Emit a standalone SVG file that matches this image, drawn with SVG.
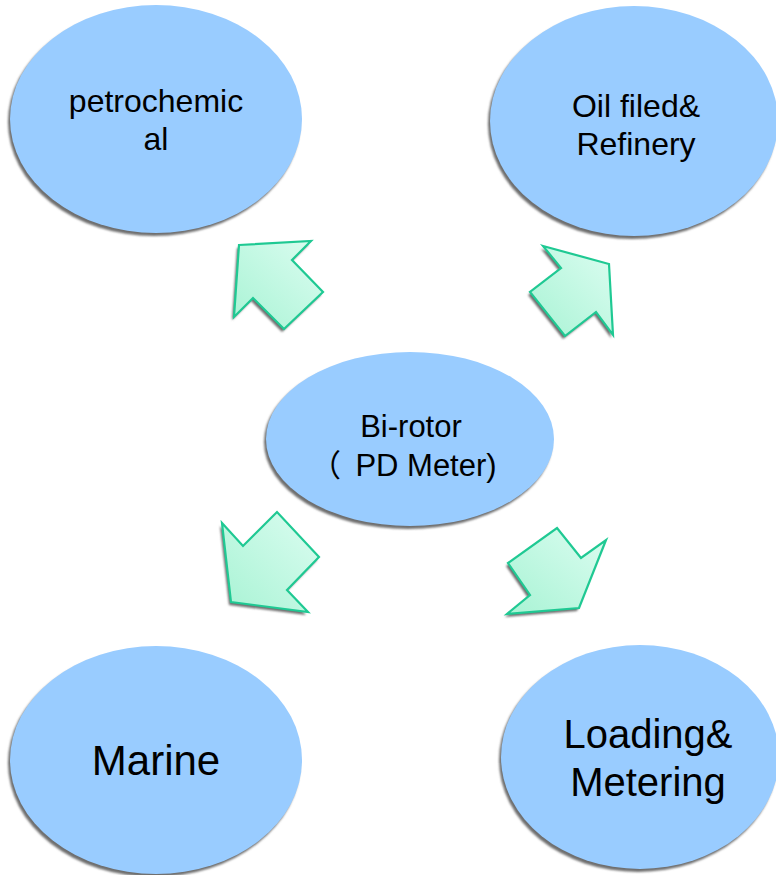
<svg xmlns="http://www.w3.org/2000/svg" width="776" height="875" viewBox="0 0 776 875">
<defs>
<linearGradient id="ag" x1="1" y1="0" x2="0" y2="1">
<stop offset="0" stop-color="#dcfdf1"/>
<stop offset="1" stop-color="#a8f3d4"/>
</linearGradient>
<filter id="sh" x="-10%" y="-10%" width="120%" height="120%">
<feGaussianBlur stdDeviation="0.8"/>
</filter>
</defs>
<style>
.node{fill:#99ccff;}
.shadow{fill:#6e6e6e;filter:url(#sh);}
.arrow{fill:url(#ag);stroke:#1fc993;stroke-width:2.2;stroke-linejoin:miter;}
.ashadow{fill:#6e6e6e;filter:url(#sh);}
text{font-family:"Liberation Sans","Noto Sans CJK SC",Arial,sans-serif;fill:#000;text-anchor:middle;}
</style>
<rect width="776" height="875" fill="#ffffff"/>
<g id="connectors">
<polygon class="ashadow" points="237,248 309,244 290,263 321,295 282,332 251,301 232,320"/>
<polygon class="arrow" points="239,245 311,241 292,260 323,292 284,329 253,298 234,317"/>
<polygon class="ashadow" points="541,249 607,267 611,338 594,315 563,339 528,295 559,271"/>
<polygon class="arrow" points="543,246 609,264 613,335 596,312 565,336 530,292 561,268"/>
<polygon class="ashadow" points="220,526 241,549 275,515 317,560 285,593 306,615 229,605"/>
<polygon class="arrow" points="222,523 243,546 277,512 319,557 287,590 308,612 231,602"/>
<polygon class="ashadow" points="555,531 579,561 604,543 577,611 505,617 528,598 506,566"/>
<polygon class="arrow" points="557,528 581,558 606,540 579,608 507,614 530,595 508,563"/>
</g>
<g id="petrochemical">
<ellipse class="shadow" cx="154" cy="122" rx="146" ry="114"/>
<ellipse class="node" cx="156" cy="119" rx="146" ry="114"/>
<text x="156" y="112" font-size="32">petrochemic</text>
<text x="156" y="150" font-size="32">al</text>
</g>
<g id="oilfield">
<ellipse class="shadow" cx="632" cy="124" rx="144" ry="115"/>
<ellipse class="node" cx="634" cy="121" rx="144" ry="115"/>
<text x="636" y="117" font-size="32">Oil filed&amp;</text>
<text x="636" y="155" font-size="32">Refinery</text>
</g>
<g id="birotor">
<ellipse class="shadow" cx="408" cy="442" rx="144" ry="87"/>
<ellipse class="node" cx="410" cy="439" rx="144" ry="87"/>
<text x="411" y="437" font-size="31">Bi-rotor</text>
<text y="476" font-size="31"><tspan x="341" text-anchor="end">（</tspan><tspan x="426">PD Meter)</tspan></text>
</g>
<g id="marine">
<ellipse class="shadow" cx="154" cy="763" rx="146" ry="114"/>
<ellipse class="node" cx="156" cy="760" rx="146" ry="114"/>
<text x="156" y="775" font-size="42">Marine</text>
</g>
<g id="loading">
<ellipse class="shadow" cx="638" cy="760" rx="139" ry="112"/>
<ellipse class="node" cx="640" cy="757" rx="139" ry="112"/>
<text x="648" y="748" font-size="40">Loading&amp;</text>
<text x="648" y="796" font-size="40">Metering</text>
</g>
</svg>
